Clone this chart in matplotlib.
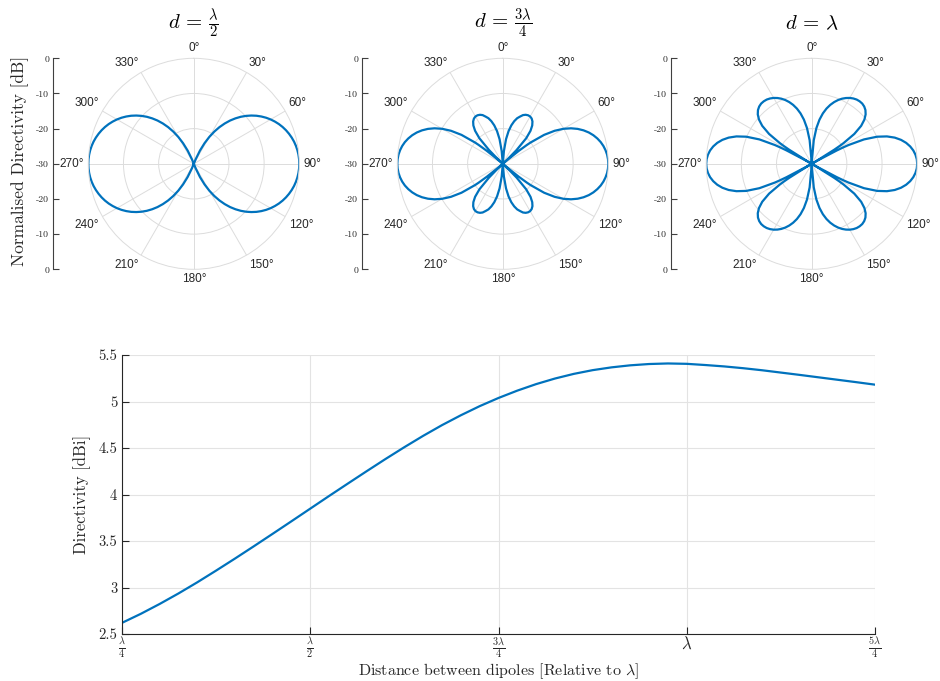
import numpy as np
import matplotlib.pyplot as plt

plt.rcParams['font.family'] = ['cmr10', 'DejaVu Serif']
plt.rcParams['mathtext.fontset'] = 'cm'
plt.rcParams['axes.unicode_minus'] = False

# radiation patterns, one quadrant (angle from the array axis, deg) in dB, floor at -30
theta_half = [0, 10, 20, 22.5, 25, 27.5, 30, 32.5, 35, 37.5, 40, 42.5, 45, 47.5, 50,
              52.5, 55, 57.5, 60, 62.5, 65, 67.5, 70, 72.5, 75, 77.5, 80, 82.5, 85,
              87.5, 90]
gain_half = [-30, -30, -30, -28.59, -25.86, -23.41, -21.18, -19.14, -17.27, -15.55,
             -13.94, -12.47, -11.09, -9.83, -8.65, -7.55, -6.55, -5.62, -4.77, -4.00,
             -3.29, -2.66, -2.10, -1.61, -1.18, -0.81, -0.52, -0.29, -0.13, -0.03, 0]

theta_3q = [0, 2.5, 5, 7.5, 10, 12.5, 15, 17.5, 20, 22.5, 25, 27.5, 30, 32.5, 35,
            37.5, 40, 42.5, 45, 46, 47, 48, 49, 50, 51, 52, 52.5, 55, 57.5, 60, 62.5,
            65, 67.5, 70, 72.5, 75, 77.5, 80, 82.5, 85, 87.5, 90]
gain_3q = [-30, -30, -26.35, -22.93, -20.57, -18.81, -17.46, -16.41, -15.72, -15.01,
           -14.62, -14.44, -14.46, -14.73, -15.30, -16.25, -17.74, -20.15, -24.47,
           -27.48, -30, -30, -30, -28.17, -24.12, -21.27, -20.10, -15.66, -12.52,
           -10.10, -8.14, -6.51, -5.14, -3.97, -2.99, -2.17, -1.48, -0.94, -0.53,
           -0.23, -0.06, 0]

theta_full = [0, 2.5, 5, 7.5, 10, 12.5, 15, 17.5, 20, 22.5, 25, 27.5, 30, 32.5, 35,
              37.5, 40, 42.5, 45, 47.5, 50, 52.5, 55, 57, 57.5, 58, 59, 60, 61, 62,
              62.5, 63, 65, 67.5, 70, 72.5, 75, 77.5, 80, 82.5, 85, 87.5, 90]
gain_full = [-30, -29.3, -23.26, -19.74, -17.25, -15.31, -13.74, -12.43, -11.32,
             -10.37, -9.57, -8.91, -8.37, -7.97, -7.70, -7.60, -7.64, -7.90, -8.39,
             -9.20, -10.43, -12.27, -15.21, -19.22, -20.71, -22.46, -28.40, -30,
             -28.07, -21.89, -19.91, -18.25, -13.59, -9.86, -7.23, -5.24, -3.70,
             -2.49, -1.56, -0.86, -0.38, -0.09, 0]

titles = [r'$d\,=\,\frac{\lambda}{2}$', r'$d\,=\,\frac{3\lambda}{4}$', r'$d\,=\,\lambda$']
rad_ticks = [0, 10, 20, 30, 40, 50, 60]
rad_labels = ['0', '-10', '-20', '-30', '-20', '-10', '0']
angle_ticks = list(range(0, 360, 30))
angle_labels = [f'{a}°' for a in angle_ticks]

# directivity against element spacing (in wavelengths)
spacing = [0.250, 0.275, 0.300, 0.325, 0.350, 0.375, 0.400, 0.425, 0.450, 0.475,
           0.500, 0.525, 0.550, 0.575, 0.600, 0.625, 0.650, 0.675, 0.700, 0.725,
           0.750, 0.775, 0.800, 0.825, 0.850, 0.875, 0.900, 0.925, 0.950, 0.975,
           1.000, 1.025, 1.050, 1.075, 1.100, 1.125, 1.150, 1.175, 1.200, 1.225, 1.250]
directivity = [2.620, 2.717, 2.823, 2.936, 3.056, 3.182, 3.311, 3.443, 3.577, 3.712,
               3.848, 3.984, 4.118, 4.251, 4.382, 4.509, 4.631, 4.746, 4.852, 4.950,
               5.038, 5.117, 5.187, 5.247, 5.297, 5.337, 5.367, 5.389, 5.403, 5.409,
               5.405, 5.392, 5.377, 5.358, 5.336, 5.311, 5.286, 5.260, 5.234, 5.208,
               5.181]
x_ticks = [0.25, 0.5, 0.75, 1.0, 1.25]
x_labels = [r'$\frac{\lambda}{4}$', r'$\frac{\lambda}{2}$', r'$\frac{3\lambda}{4}$',
            r'$\lambda$', r'$\frac{5\lambda}{4}$']
y_ticks = [2.5, 3, 3.5, 4, 4.5, 5, 5.5]
y_labels = ['2.5', '3', '3.5', '4', '4.5', '5', '5.5']

blue = '#0072BD'
dark = '#262626'
light = '#dcdcdc'


def full_circle(theta_q, gain_q):
    # pattern is symmetric about both axes, mirror the quadrant round the circle
    t = np.array(theta_q, dtype=float)
    g = np.array(gain_q, dtype=float)
    th = np.concatenate([t, 180 - t[::-1], 180 + t, 360 - t[::-1]])
    gg = np.concatenate([g, g[::-1], g, g[::-1]])
    return np.deg2rad(th), gg


fig = plt.figure(figsize=(9.4, 6.81), dpi=100)

W, H = 940, 681
R = 105.5
centres = [193.8, 502.8, 811.7]
cy = 163.8
patterns = [(theta_half, gain_half), (theta_3q, gain_3q), (theta_full, gain_full)]

for i, (cx, (tq, gq)) in enumerate(zip(centres, patterns)):
    ax = fig.add_axes([(cx - R) / W, (H - cy - R) / H, 2 * R / W, 2 * R / H],
                      projection='polar')
    th, g = full_circle(tq, gq)
    ax.plot(th, g, color=blue, lw=1.6)
    ax.set_theta_zero_location('N')
    ax.set_theta_direction(-1)
    ax.set_ylim(-30, 0)
    ax.set_yticks([-20, -10])
    ax.set_yticklabels([])
    ax.set_thetagrids(angle_ticks, [''] * len(angle_ticks))
    ax.grid(True, color=light, lw=0.7)
    ax.spines['polar'].set_color(light)
    ax.spines['polar'].set_linewidth(0.7)

    # angle labels sit just outside the rim, anchored on the side facing the dial
    rr = 0.5 + 4 / (2 * R)
    for a, lab in zip(angle_ticks, angle_labels):
        s, c = np.sin(np.deg2rad(a)), np.cos(np.deg2rad(a))
        ha = 'left' if s > 0.01 else ('right' if s < -0.01 else 'center')
        va = 'bottom' if c > 0.01 else ('top' if c < -0.01 else 'center')
        ax.text(0.5 + rr * s, 0.5 + rr * c, lab, transform=ax.transAxes,
                ha=ha, va=va, fontsize=8.5, color=dark, family='Liberation Sans',
                clip_on=False)

    # radial scale drawn as a separate axis to the left of the dial
    rx = fig.add_axes([(cx - 140.5) / W, (H - cy - R) / H, 0.001, 2 * R / H])
    rx.set_ylim(0, 60)
    rx.set_yticks(rad_ticks)
    rx.set_yticklabels(rad_labels, fontsize=7, color=dark)
    rx.set_xticks([])
    for s in ['top', 'right', 'bottom']:
        rx.spines[s].set_visible(False)
    rx.spines['left'].set_color('#404040')
    rx.spines['left'].set_linewidth(0.8)
    rx.tick_params(axis='y', direction='in', length=4, width=0.8, color='#404040', pad=3)
    rx.patch.set_visible(False)

    fig.text(cx / W, 1 - 29 / H, titles[i], ha='center', va='baseline', fontsize=15)

fig.text(20.5 / W, 1 - 161 / H, 'Normalised Directivity [dB]', rotation=90,
         ha='center', va='center', fontsize=12.5, color=dark)

ax = fig.add_axes([122 / W, (H - 634) / H, 753 / W, 279 / H])
ax.plot(spacing, directivity, color=blue, lw=1.6)
ax.set_xlim(0.25, 1.25)
ax.set_ylim(2.5, 5.5)
ax.set_xticks(x_ticks)
ax.set_xticklabels(x_labels, fontsize=10.5)
ax.get_xticklabels()[3].set_fontsize(12)
ax.set_yticks(y_ticks)
ax.set_yticklabels(y_labels, fontsize=10.5)
ax.grid(True, color='#e3e3e3', lw=0.8)
ax.set_axisbelow(True)
ax.spines['top'].set_visible(False)
ax.spines['right'].set_visible(False)
for s in ['left', 'bottom']:
    ax.spines[s].set_color(dark)
    ax.spines[s].set_linewidth(0.8)
ax.tick_params(direction='in', length=5, width=0.8, color=dark, labelcolor=dark)
ax.tick_params(axis='x', pad=1)
ax.set_xlabel(r'Distance between dipoles [Relative to $\lambda$]', fontsize=11.5,
              color=dark)
ax.xaxis.set_label_coords(0.5, -(671 - 634) / 279)
ax.xaxis.label.set_va('center')
ax.set_ylabel('Directivity [dBi]', fontsize=12, color=dark, labelpad=5)

fig.savefig('out.png', dpi=100)
